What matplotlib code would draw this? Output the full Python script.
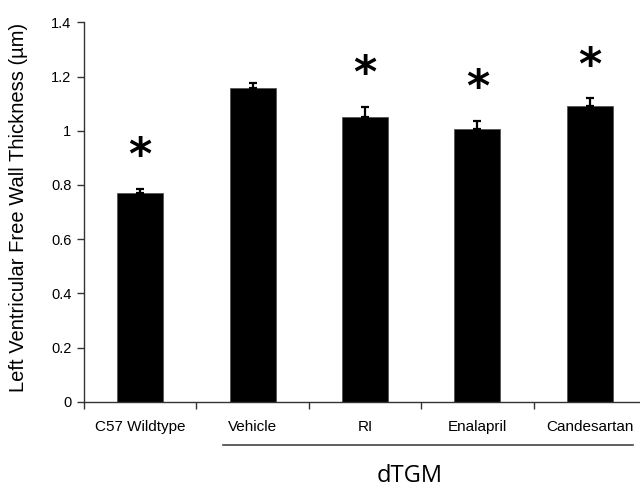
import matplotlib
matplotlib.use("Agg")
import matplotlib.pyplot as plt
from matplotlib.lines import Line2D
import numpy as np

categories = ["C57 Wildtype", "Vehicle", "RI", "Enalapril", "Candesartan"]
values = [0.770, 1.158, 1.051, 1.008, 1.090]
errors = [0.015, 0.017, 0.038, 0.028, 0.030]
significant = [True, False, True, True, True]
yticks = [0, 0.2, 0.4, 0.6, 0.8, 1.0, 1.2, 1.4]
ytick_labels = ["0", "0.2", "0.4", "0.6", "0.8", "1", "1.2", "1.4"]
group_label = "dTGM"
ylabel = "Left Ventricular Free Wall Thickness (\u00b5m)"

plt.rcParams['font.family'] = ['Liberation Sans', 'DejaVu Sans']

W, H = 640, 488
fig = plt.figure(figsize=(W / 100, H / 100), dpi=100)
ax = fig.add_axes([84 / W, (H - 401.7) / H, (646 - 84) / W, (401.7 - 22.3) / H])

x = np.arange(len(categories))
ax.bar(x, values, width=0.41, color='black', edgecolor='#555555', linewidth=0.6, zorder=2)
ax.errorbar(x, values, yerr=[np.zeros(len(errors)), errors], fmt='none',
            ecolor='black', elinewidth=1.6, capsize=3.2, capthick=1.6, zorder=3)

for xi, v, e, s in zip(x, values, errors, significant):
    if s:
        ax.text(xi, v + e + 0.118, "*", ha='center', va='center', fontsize=32,
                fontweight='bold', family=['DejaVu Sans'])

ax.set_xlim(-0.5, len(categories) - 0.5)
ax.set_ylim(0, 1.4)
ax.set_yticks(yticks)
ax.set_yticklabels(ytick_labels, fontsize=10.5)
ax.set_xticks(x)
ax.set_xticklabels(categories, fontsize=11)
ax.set_xticks(np.arange(len(categories) + 1) - 0.5, minor=True)
ax.tick_params(axis='x', which='major', length=0, pad=13)
ax.tick_params(axis='x', which='minor', length=5, width=1, direction='out', color='#333333')
ax.tick_params(axis='y', length=5, width=1, direction='out', color='#333333', pad=4)
ax.spines['top'].set_visible(False)
ax.spines['right'].set_visible(False)
for sp in ['left', 'bottom']:
    ax.spines[sp].set_color('#333333')
    ax.spines[sp].set_linewidth(1.0)

ax.set_ylabel(ylabel, fontsize=14.5)
ax.yaxis.set_label_coords(-0.1, 0.513)

fig.add_artist(Line2D([223 / W, 633 / W], [(H - 445) / H, (H - 445) / H],
                      color='#444444', linewidth=1.2))
fig.text(410 / W, (H - 476) / H, group_label, ha='center', va='center', fontsize=17,
         family=['Open Sans', 'DejaVu Sans'])

fig.savefig("out.png", dpi=100)
